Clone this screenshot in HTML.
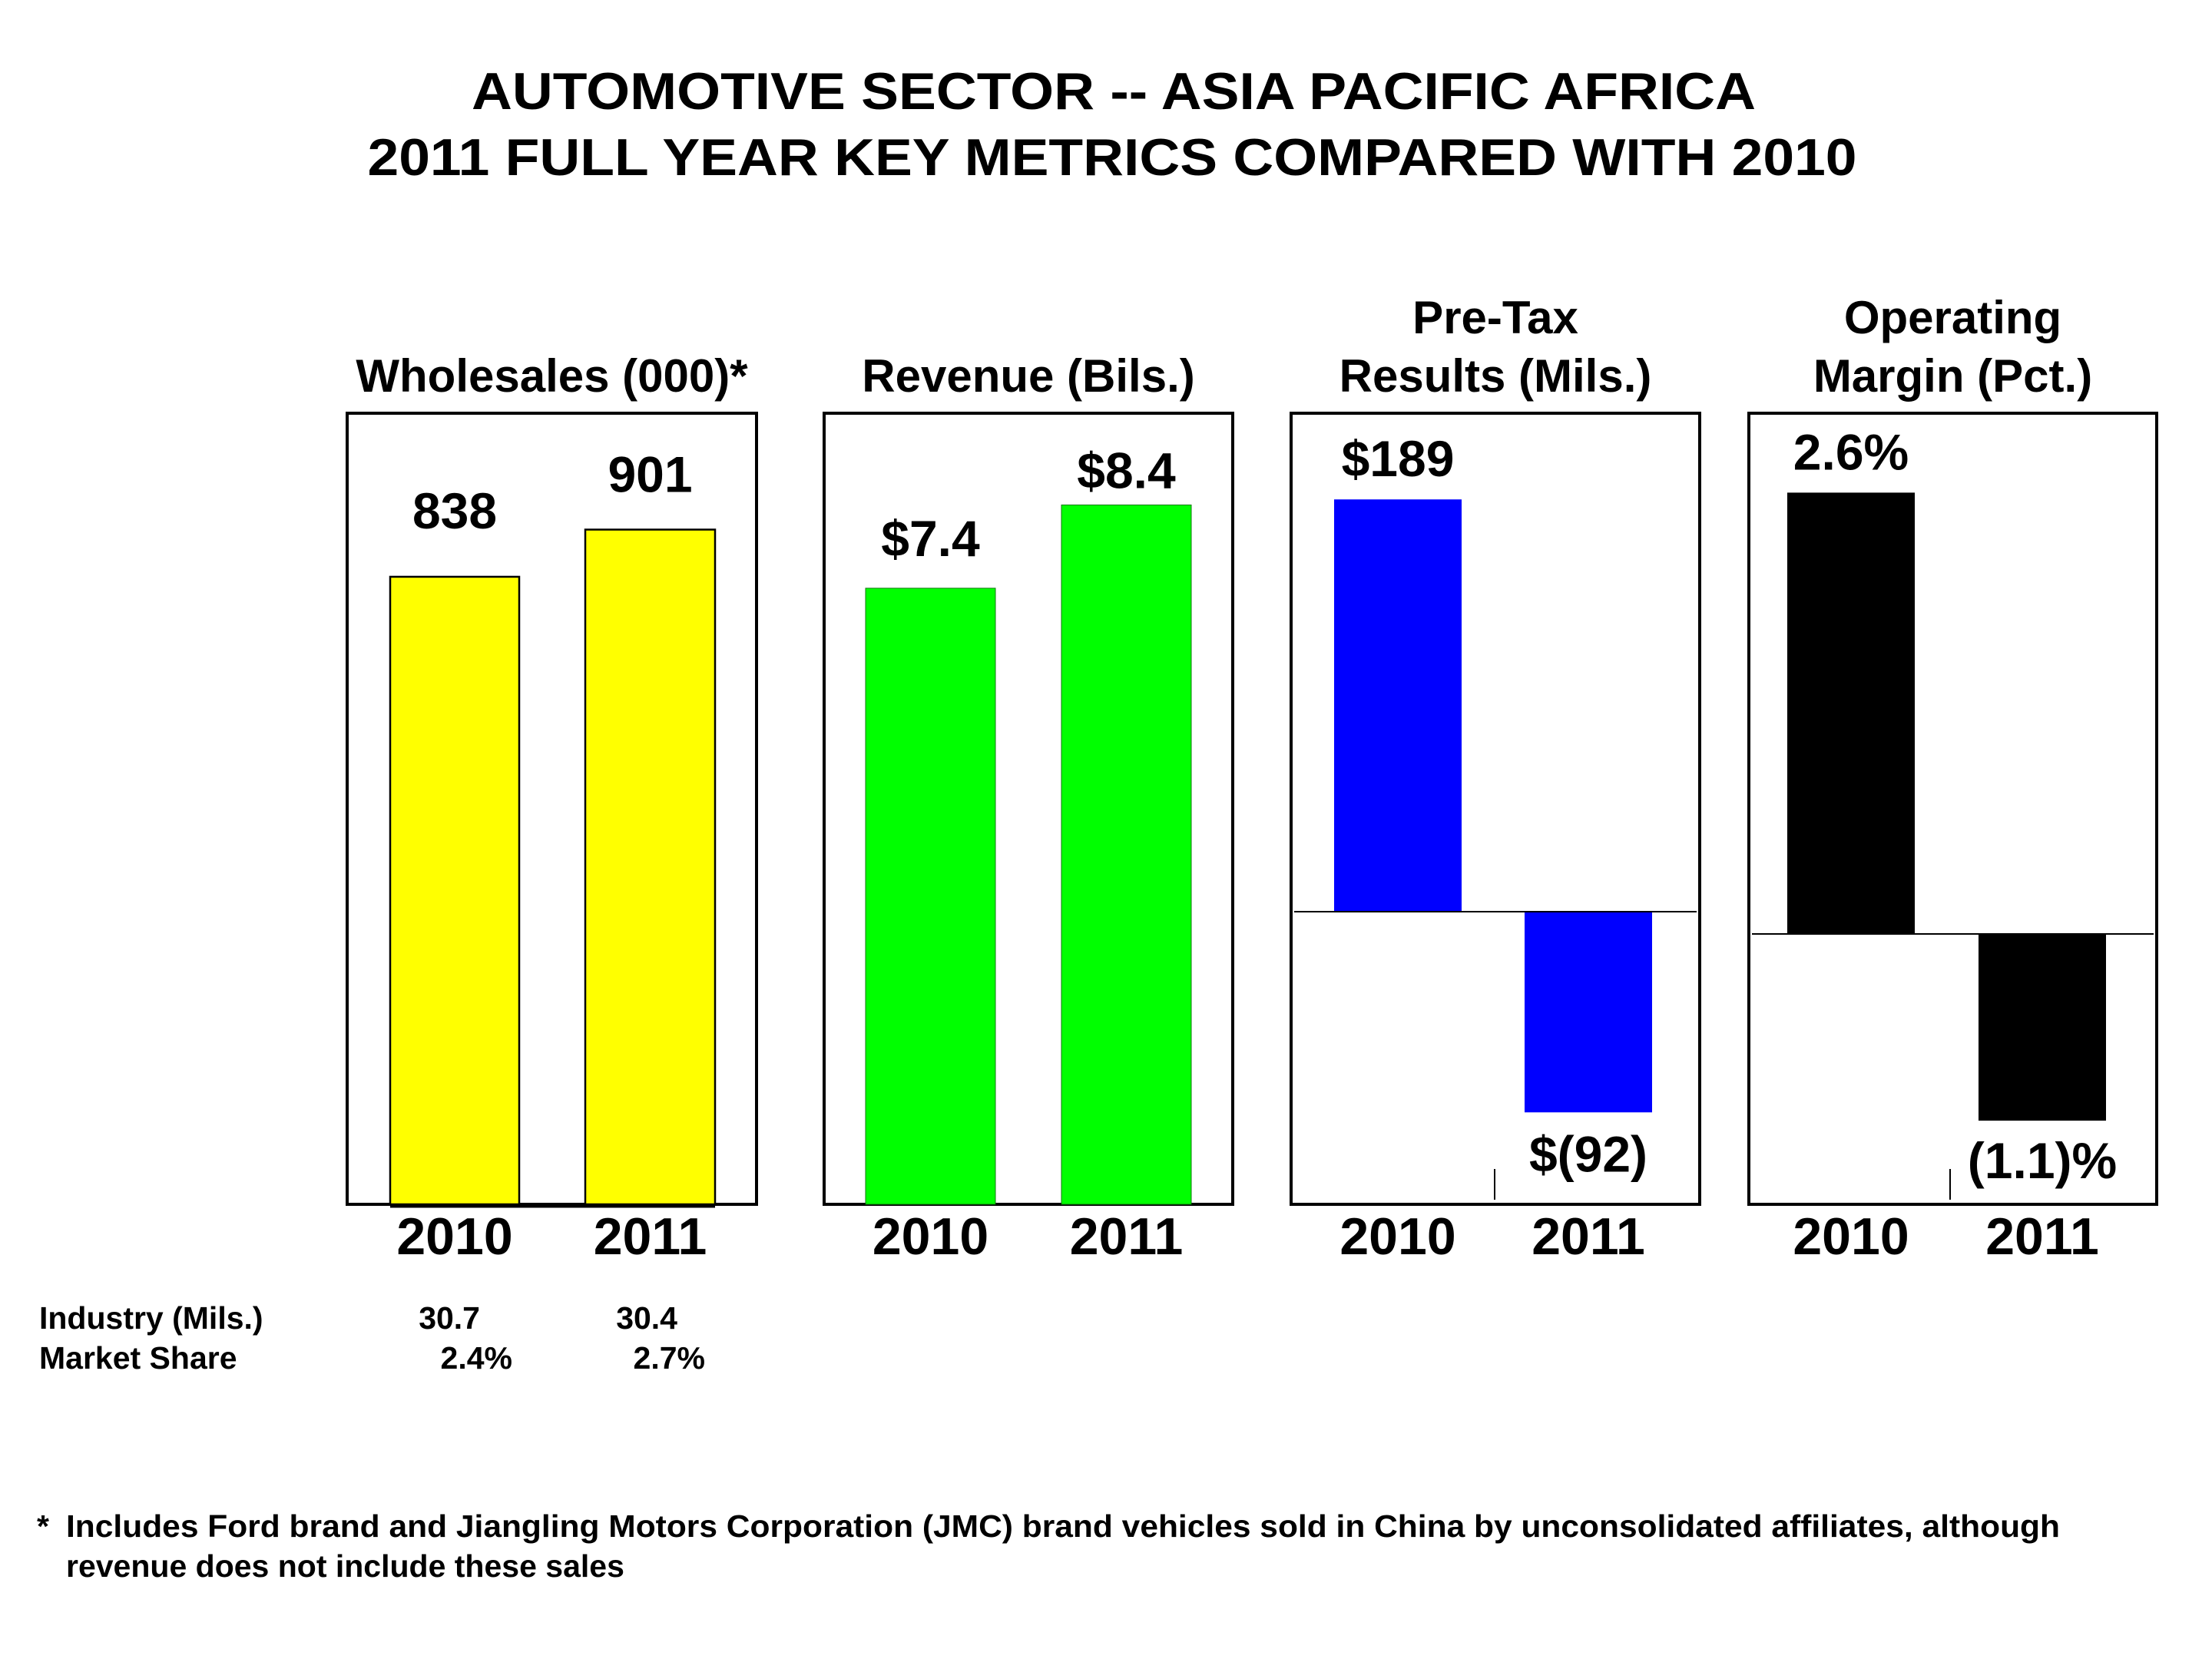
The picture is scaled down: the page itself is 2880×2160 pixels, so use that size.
<!DOCTYPE html>
<html><head><meta charset="utf-8"><style>
html,body{margin:0;padding:0;background:#fff}
svg{display:block;font-family:"Liberation Sans",Arial,sans-serif;font-weight:bold}
</style></head><body>
<svg id="chart" width="2880" height="2160" viewBox="0 0 2880 2160">
<text x="1450" y="142" font-size="68" text-anchor="middle" textLength="1672" lengthAdjust="spacingAndGlyphs">AUTOMOTIVE SECTOR -- ASIA PACIFIC AFRICA</text>
<text x="1448" y="228" font-size="68" text-anchor="middle" textLength="1939" lengthAdjust="spacingAndGlyphs">2011 FULL YEAR KEY METRICS COMPARED WITH 2010</text>
<g id="panels"></g>
<g font-size="41">
<text x="51" y="1730">Industry (Mils.)</text>
<text x="625" y="1730" text-anchor="end">30.7</text>
<text x="882" y="1730" text-anchor="end">30.4</text>
<text x="51" y="1782">Market Share</text>
<text x="667" y="1782" text-anchor="end">2.4%</text>
<text x="918" y="1782" text-anchor="end">2.7%</text>
</g>
<g font-size="41">
<text x="48" y="2001">*</text>
<text x="86" y="2001" textLength="2596" lengthAdjust="spacingAndGlyphs">Includes Ford brand and Jiangling Motors Corporation (JMC) brand vehicles sold in China by unconsolidated affiliates, although</text>
<text x="86" y="2053">revenue does not include these sales</text>
</g>
</svg>
<script>
const categories = ["2010", "2011"];
const wholesalesValues = [838, 901];
const revenueValues = [7.4, 8.4];
const pretaxValues = [189, -92];
const marginValues = [2.6, -1.1];
const wholesalesLabels = ["838", "901"];
const revenueLabels = ["$7.4", "$8.4"];
const pretaxLabels = ["$189", "$(92)"];
const marginLabels = ["2.6%", "(1.1)%"];

const NS = "http://www.w3.org/2000/svg";
const root = document.getElementById("panels");
function mk(tag, attrs, parent){
  const e = document.createElementNS(NS, tag);
  for (const k in attrs) e.setAttribute(k, attrs[k]);
  parent.appendChild(e);
  return e;
}
const TOP = 538, BOT = 1568;
const panels = [
  {key:"wholesales", title:["Wholesales (000)*"], left:452, right:985, values:wholesalesValues, labels:wholesalesLabels, zero:BOT, scale:0.975, fill:"#ffff00", stroke:"#000", sw:2.5, bars:[[508,676],[762,931]], tick:false, labOff:[63,49]},
  {key:"revenue", title:["Revenue (Bils.)"], left:1073, right:1605, values:revenueValues, labels:revenueLabels, zero:BOT, scale:108.4, fill:"#00ff00", stroke:"#117711", sw:1, bars:[[1127,1296],[1382,1551]], tick:false, labOff:[42,22]},
  {key:"pretax", title:["Pre-Tax","Results (Mils.)"], left:1681, right:2213, values:pretaxValues, labels:pretaxLabels, zero:1187, scale:2.84, fill:"#0000ff", stroke:"none", sw:0, bars:[[1737,1903],[1985,2151]], tick:1946, labOff:[30,-77]},
  {key:"margin", title:["Operating","Margin (Pct.)"], left:2277, right:2808, values:marginValues, labels:marginLabels, zero:1216, scale:221, fill:"#000000", stroke:"none", sw:0, bars:[[2327,2493],[2576,2742]], tick:2539, labOff:[30,-75]}
];
panels.forEach(p => {
  const g = mk("g", {}, root);
  
  
  const cx = (p.left + p.right) / 2;
  p.title.forEach((t, i) => {
    const tt = mk("text", {x:cx, y:510 - (p.title.length - 1 - i) * 76, "font-size":60, "text-anchor":"middle"}, g);
    tt.textContent = t;
    
    
  });
  const frame = mk("rect", {x:p.left, y:TOP, width:p.right - p.left, height:BOT - TOP, fill:"none", stroke:"#000", "stroke-width":4}, g);
  
  
  p.values.forEach((v, i) => {
    const h = Math.abs(v) * p.scale;
    const y = v >= 0 ? p.zero - h : p.zero;
    const [x0, x1] = p.bars[i];
    const b = mk("rect", {x:x0, y:y, width:x1 - x0, height:h, fill:p.fill, stroke:p.stroke, "stroke-width":p.sw}, g);
    
    
    const ly = v >= 0 ? y - p.labOff[i] : y + h - p.labOff[i];
    const l = mk("text", {x:(x0 + x1) / 2, y:ly, "font-size":66, "text-anchor":"middle"}, g);
    l.textContent = p.labels[i];
    
    
    const c = mk("text", {x:(x0 + x1) / 2, y:1633, "font-size":68, "text-anchor":"middle"}, g);
    c.textContent = categories[i];
    
    
  });
  if (p.zero < BOT) {
    const z = mk("line", {x1:p.left + 4, x2:p.right - 4, y1:p.zero, y2:p.zero, stroke:"#000", "stroke-width":2}, g);
    
    
  } else if (p.key === "wholesales") {
    const z = mk("line", {x1:p.bars[0][0], x2:p.bars[1][1], y1:BOT + 2, y2:BOT + 2, stroke:"#000", "stroke-width":5}, g);
    
    
  }
  if (p.tick) {
    const t = mk("line", {x1:p.tick, x2:p.tick, y1:1522, y2:1562, stroke:"#000", "stroke-width":2}, g);
    
    
  }
});
</script>
</body></html>
